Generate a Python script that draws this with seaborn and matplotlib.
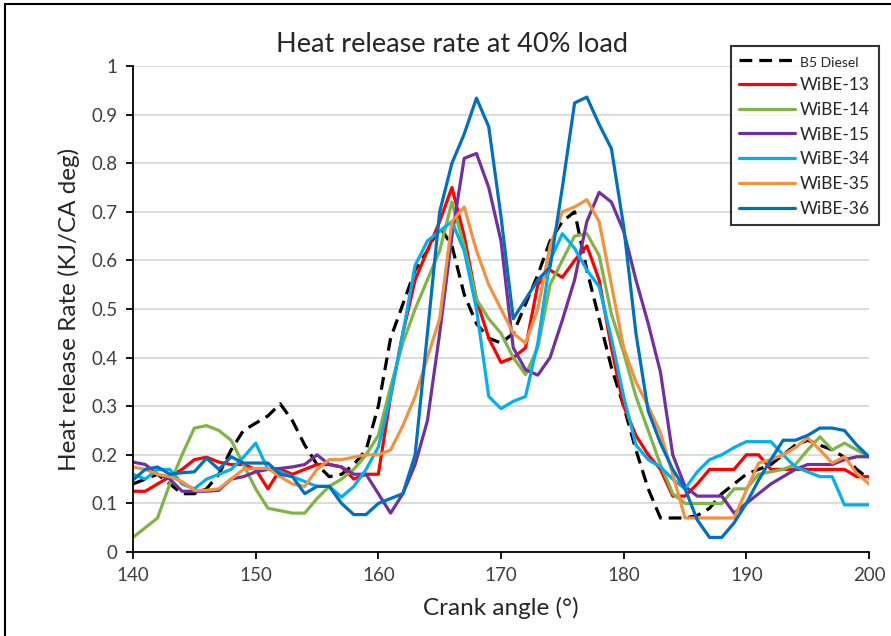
import numpy as np
import pandas as pd
import matplotlib
matplotlib.use("Agg")
import matplotlib.pyplot as plt
import seaborn as sns
from matplotlib.lines import Line2D

crank_angle = list(range(140, 201))

b5_diesel = [0.14, 0.15, 0.16, 0.14, 0.12, 0.12, 0.13, 0.16, 0.21, 0.25,
             0.265, 0.28, 0.305, 0.27, 0.22, 0.18, 0.155, 0.16, 0.18, 0.21,
             0.30, 0.44, 0.51, 0.58, 0.62, 0.67, 0.63, 0.53, 0.47, 0.44,
             0.43, 0.45, 0.51, 0.57, 0.64, 0.68, 0.70, 0.58, 0.48, 0.38,
             0.30, 0.21, 0.13, 0.07, 0.07, 0.07, 0.075, 0.09, 0.12, 0.14,
             0.16, 0.17, 0.18, 0.20, 0.22, 0.23, 0.22, 0.21, 0.195, 0.17, 0.15]

wibe_13 = [0.125, 0.125, 0.14, 0.155, 0.17, 0.19, 0.195, 0.185, 0.18, 0.18,
           0.17, 0.13, 0.17, 0.16, 0.17, 0.18, 0.18, 0.175, 0.15, 0.16,
           0.16, 0.32, 0.45, 0.56, 0.62, 0.68, 0.75, 0.65, 0.52, 0.44,
           0.39, 0.40, 0.42, 0.55, 0.58, 0.565, 0.60, 0.63, 0.56, 0.42,
           0.30, 0.24, 0.20, 0.17, 0.115, 0.115, 0.14, 0.17, 0.17, 0.17,
           0.20, 0.20, 0.17, 0.17, 0.17, 0.17, 0.17, 0.17, 0.17, 0.155, 0.155]

wibe_14 = [0.03, 0.05, 0.07, 0.14, 0.20, 0.255, 0.26, 0.25, 0.23, 0.18,
           0.13, 0.09, 0.085, 0.08, 0.08, 0.11, 0.135, 0.15, 0.17, 0.20,
           0.24, 0.34, 0.43, 0.50, 0.56, 0.62, 0.72, 0.63, 0.52, 0.48,
           0.45, 0.40, 0.365, 0.42, 0.55, 0.60, 0.65, 0.655, 0.61, 0.49,
           0.41, 0.32, 0.25, 0.18, 0.12, 0.10, 0.10, 0.10, 0.10, 0.13,
           0.13, 0.16, 0.165, 0.17, 0.18, 0.21, 0.237, 0.21, 0.224, 0.21, 0.196]

wibe_15 = [0.185, 0.18, 0.16, 0.15, 0.125, 0.125, 0.125, 0.127, 0.15, 0.155,
           0.165, 0.17, 0.172, 0.175, 0.18, 0.20, 0.18, 0.175, 0.16, 0.16,
           0.12, 0.08, 0.12, 0.18, 0.27, 0.45, 0.65, 0.81, 0.82, 0.75,
           0.64, 0.42, 0.375, 0.364, 0.40, 0.477, 0.56, 0.68, 0.74, 0.72,
           0.66, 0.56, 0.47, 0.37, 0.20, 0.135, 0.115, 0.115, 0.115, 0.08,
           0.10, 0.12, 0.14, 0.155, 0.17, 0.18, 0.18, 0.18, 0.19, 0.196, 0.196]

wibe_34 = [0.16, 0.15, 0.17, 0.17, 0.14, 0.13, 0.15, 0.16, 0.17, 0.195,
           0.224, 0.17, 0.165, 0.155, 0.145, 0.135, 0.135, 0.113, 0.135, 0.17,
           0.216, 0.32, 0.45, 0.59, 0.64, 0.66, 0.68, 0.62, 0.50, 0.32,
           0.295, 0.31, 0.32, 0.43, 0.60, 0.655, 0.625, 0.58, 0.546, 0.44,
           0.32, 0.22, 0.19, 0.175, 0.15, 0.13, 0.165, 0.19, 0.20, 0.215,
           0.227, 0.227, 0.227, 0.20, 0.175, 0.165, 0.155, 0.155, 0.097, 0.097, 0.097]

wibe_35 = [0.175, 0.17, 0.16, 0.155, 0.145, 0.127, 0.127, 0.13, 0.15, 0.17,
           0.172, 0.172, 0.155, 0.14, 0.135, 0.17, 0.19, 0.19, 0.195, 0.20,
           0.20, 0.21, 0.26, 0.32, 0.40, 0.48, 0.68, 0.71, 0.62, 0.55,
           0.50, 0.45, 0.43, 0.50, 0.63, 0.70, 0.71, 0.725, 0.68, 0.55,
           0.42, 0.35, 0.30, 0.245, 0.16, 0.07, 0.07, 0.07, 0.07, 0.07,
           0.127, 0.183, 0.19, 0.20, 0.215, 0.235, 0.21, 0.183, 0.196, 0.162, 0.14]

wibe_36 = [0.148, 0.17, 0.175, 0.16, 0.163, 0.165, 0.193, 0.17, 0.196, 0.183,
           0.183, 0.183, 0.16, 0.155, 0.12, 0.135, 0.135, 0.10, 0.077, 0.077,
           0.10, 0.11, 0.12, 0.20, 0.45, 0.70, 0.80, 0.86, 0.934, 0.875,
           0.69, 0.48, 0.52, 0.56, 0.586, 0.75, 0.924, 0.936, 0.88, 0.83,
           0.67, 0.45, 0.29, 0.224, 0.17, 0.13, 0.066, 0.03, 0.03, 0.06,
           0.10, 0.148, 0.19, 0.23, 0.23, 0.24, 0.255, 0.255, 0.25, 0.22, 0.196]

series_names = ["B5 Diesel", "WiBE-13", "WiBE-14", "WiBE-15", "WiBE-34", "WiBE-35", "WiBE-36"]
series_values = [b5_diesel, wibe_13, wibe_14, wibe_15, wibe_34, wibe_35, wibe_36]
colors = ["#000000", "#FF0000", "#7FB446", "#7030A0", "#00B0F0", "#F4913F", "#0070C0"]

x_ticks = [140, 150, 160, 170, 180, 190, 200]
y_ticks = [0, 0.1, 0.2, 0.3, 0.4, 0.5, 0.6, 0.7, 0.8, 0.9, 1.0]
y_tick_labels = ["0", "0.1", "0.2", "0.3", "0.4", "0.5", "0.6", "0.7", "0.8", "0.9", "1"]

frames = []
for name, vals in zip(series_names, series_values):
    frames.append(pd.DataFrame({"angle": crank_angle, "hrr": vals, "fuel": name}))
df = pd.concat(frames, ignore_index=True)

sns.set_theme(style="white")
plt.rcParams["font.family"] = ["Lato", "DejaVu Sans"]

fig = plt.figure(figsize=(8.91, 6.36), dpi=100)
ax = fig.add_axes([133 / 891, 1 - 552 / 636, (869 - 133) / 891, (552 - 66) / 636])

palette = dict(zip(series_names, colors))
dashes = {n: (4, 2.2) if n == "B5 Diesel" else "" for n in series_names}
sns.lineplot(data=df, x="angle", y="hrr", hue="fuel", style="fuel",
             palette=palette, dashes=dashes, hue_order=series_names,
             style_order=series_names, linewidth=2.3, ax=ax, legend=False)

ax.set_xlim(140, 200)
ax.set_ylim(0, 1)
ax.set_xticks(x_ticks)
ax.set_xticklabels([str(t) for t in x_ticks])
ax.set_yticks(y_ticks)
ax.set_yticklabels(y_tick_labels)
ax.yaxis.grid(True, color="#D9D9D9", linewidth=1.3)
ax.xaxis.grid(False)
ax.set_axisbelow(True)
for s in ["top", "right"]:
    ax.spines[s].set_visible(False)
for s in ["left", "bottom"]:
    ax.spines[s].set_color("black")
    ax.spines[s].set_linewidth(1.3)
ax.tick_params(axis="both", which="major", direction="out", length=5, width=1.3,
               color="black", labelsize=13.5, labelcolor="#404040", pad=6,
               bottom=True, left=True)

ax.set_xlabel("Crank angle (°)", fontsize=17.5, color="#262626", labelpad=9)
ax.set_ylabel("Heat release Rate (KJ/CA deg)", fontsize=17.5, color="#262626", labelpad=8)
fig.text(452 / 891, 1 - 45 / 636, "Heat release rate at 40% load", ha="center", va="center",
         fontsize=19.5, color="#262626")

handles = []
for n, c in zip(series_names, colors):
    if n == "B5 Diesel":
        handles.append(Line2D([0], [0], color=c, lw=2.3, linestyle=(0, (4, 2.2))))
    else:
        handles.append(Line2D([0], [0], color=c, lw=2.3))
leg = fig.legend(handles, series_names, loc="upper left",
                 bbox_to_anchor=(722 / 891, 1 - 37 / 636), frameon=True,
                 fontsize=12.5, handlelength=3.2, handletextpad=0.3,
                 labelspacing=0.5, borderpad=0.5, fancybox=False)
leg.get_frame().set_edgecolor("black")
leg.get_frame().set_linewidth(1.5)
leg.get_texts()[0].set_fontsize(10)

fig.add_artist(Line2D([5 / 891, 5 / 891], [0, 1 - 4 / 636], color="black", lw=1.5,
                      transform=fig.transFigure))
fig.add_artist(Line2D([5 / 891, 1], [1 - 4 / 636, 1 - 4 / 636], color="black", lw=1.5,
                      transform=fig.transFigure))

fig.savefig("out.png", dpi=100)
